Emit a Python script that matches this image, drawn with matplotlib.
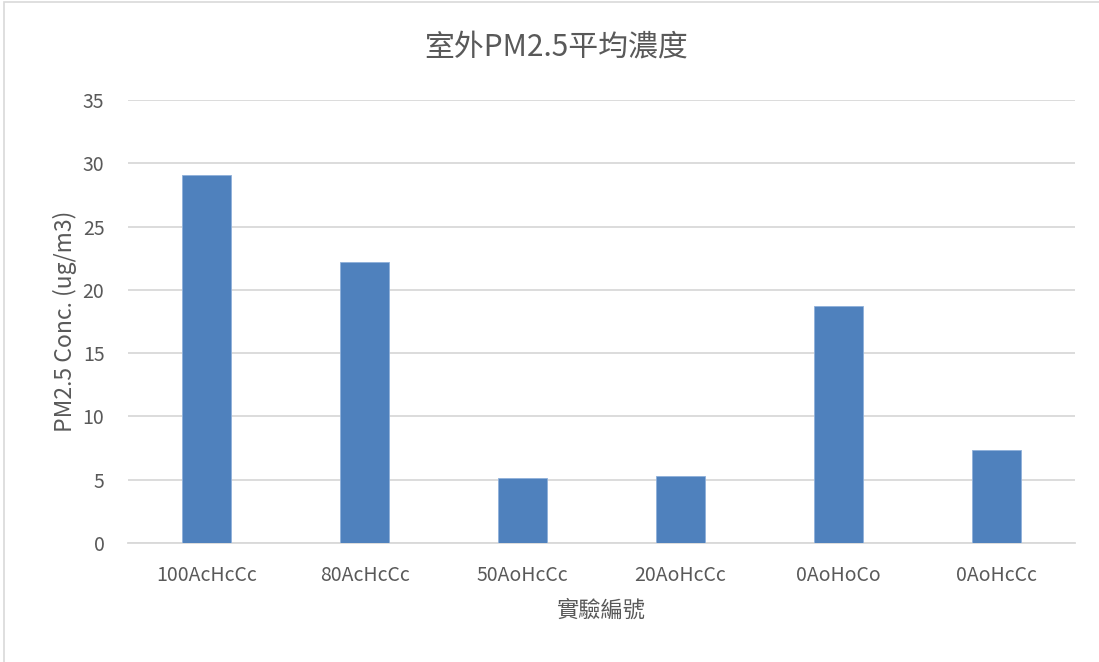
import matplotlib
matplotlib.use("Agg")
import matplotlib.pyplot as plt
from matplotlib.patches import Rectangle

plt.rcParams['font.family'] = ['Noto Sans CJK TC', 'DejaVu Sans']
plt.rcParams['font.weight'] = 'light'

categories = ["100AcHcCc", "80AcHcCc", "50AoHcCc", "20AoHcCc", "0AoHoCo", "0AoHcCc"]
values = [29.1, 22.2, 5.1, 5.3, 18.7, 7.35]
yticks = [0, 5, 10, 15, 20, 25, 30, 35]

title = "室外PM2.5平均濃度"
xlabel = "實驗編號"
ylabel = "PM2.5 Conc. (ug/m3)"

text_color = "#595959"
bar_color = "#4F81BD"
grid_color = "#D9D9D9"

fig = plt.figure(figsize=(10.99, 6.62), dpi=100)
ax = fig.add_axes([128/1099, 1 - 543/662, (1075-128)/1099, (543-100)/662])

x = list(range(len(categories)))
ax.bar(x, values, width=0.31, color=bar_color, edgecolor="#8FB0DA", linewidth=0.6, zorder=3)

ax.set_xlim(-0.5, len(categories) - 0.5)
ax.set_ylim(0, 35)
ax.set_yticks(yticks)
ax.set_xticks(x)
ax.set_xticklabels(categories)
ax.yaxis.grid(True, color=grid_color, linewidth=1.3, zorder=0)
ax.set_axisbelow(True)
for s in ["top", "right", "left"]:
    ax.spines[s].set_visible(False)
ax.spines["bottom"].set_color(grid_color)
ax.spines["bottom"].set_linewidth(1.3)
ax.tick_params(axis="x", length=0, labelsize=14, colors=text_color, pad=16)
ax.tick_params(axis="y", length=0, labelsize=14, colors=text_color, pad=17)

ax.set_xlabel(xlabel, fontsize=16, color=text_color, labelpad=9)
ax.set_ylabel(ylabel, fontsize=16.5, color=text_color, labelpad=4)
fig.text(556/1099, 1 - 47/662, title, fontsize=21.5, color=text_color, ha="center", va="center")

fig.patches.append(Rectangle((4/1099, -0.1), 1.2, 1.1 - 2/662, transform=fig.transFigure,
                             fill=False, edgecolor="#D9D9D9", linewidth=1.2))

fig.savefig("out.png", dpi=100, facecolor="white")
